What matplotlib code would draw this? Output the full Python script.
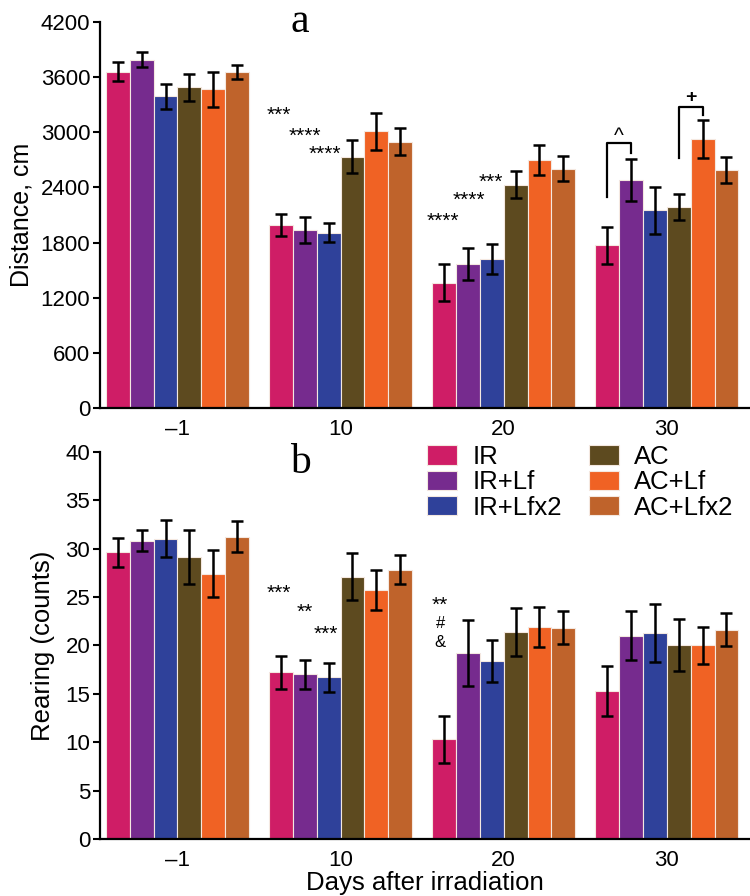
import numpy as np
import matplotlib
matplotlib.use("Agg")
import matplotlib.pyplot as plt
from matplotlib.patches import Patch

plt.rcParams["font.family"] = ["Liberation Sans", "DejaVu Sans"]

# data
days = ["\u20131", "10", "20", "30"]
groups = ["IR", "IR+Lf", "IR+Lfx2", "AC", "AC+Lf", "AC+Lfx2"]
colors = ["#CF1D66", "#762B8E", "#2F419A", "#5D4A1F", "#F06224", "#BF632B"]

# (a) distance, cm
dist_ir = [3660, 1990, 1365, 1770]
dist_ir_lf = [3790, 1940, 1565, 2480]
dist_ir_lf2 = [3390, 1910, 1620, 2150]
dist_ac = [3490, 2735, 2430, 2190]
dist_ac_lf = [3470, 3010, 2700, 2930]
dist_ac_lf2 = [3655, 2900, 2605, 2590]

dist_ir_se = [100, 120, 200, 205]
dist_ir_lf_se = [80, 140, 175, 230]
dist_ir_lf2_se = [140, 100, 165, 255]
dist_ac_se = [145, 180, 150, 140]
dist_ac_lf_se = [190, 200, 160, 205]
dist_ac_lf2_se = [80, 145, 135, 140]

# (b) rearing, counts
rear_ir = [29.6, 17.2, 10.3, 15.3]
rear_ir_lf = [30.8, 17.0, 19.2, 21.0]
rear_ir_lf2 = [31.0, 16.7, 18.4, 21.3]
rear_ac = [29.1, 27.1, 21.4, 20.0]
rear_ac_lf = [27.4, 25.7, 21.9, 20.0]
rear_ac_lf2 = [31.2, 27.8, 21.8, 21.6]

rear_ir_se = [1.5, 1.7, 2.4, 2.6]
rear_ir_lf_se = [1.1, 1.5, 3.4, 2.5]
rear_ir_lf2_se = [1.9, 1.5, 2.2, 3.0]
rear_ac_se = [2.8, 2.4, 2.5, 2.7]
rear_ac_lf_se = [2.4, 2.1, 2.1, 1.9]
rear_ac_lf2_se = [1.6, 1.5, 1.7, 1.7]

dist_means = [dist_ir, dist_ir_lf, dist_ir_lf2, dist_ac, dist_ac_lf, dist_ac_lf2]
dist_errs = [dist_ir_se, dist_ir_lf_se, dist_ir_lf2_se, dist_ac_se, dist_ac_lf_se, dist_ac_lf2_se]
rear_means = [rear_ir, rear_ir_lf, rear_ir_lf2, rear_ac, rear_ac_lf, rear_ac_lf2]
rear_errs = [rear_ir_se, rear_ir_lf_se, rear_ir_lf2_se, rear_ac_se, rear_ac_lf_se, rear_ac_lf2_se]

x = np.arange(len(days))
width = 0.1462


def bar_x(i):
    return x + (i - 2.5) * width


def draw_panel(ax, means, errs):
    for i, (m, e) in enumerate(zip(means, errs)):
        ax.bar(bar_x(i), m, width, color=colors[i], edgecolor="#f4e8e0",
               linewidth=0.8, zorder=2)
        ax.errorbar(bar_x(i), m, yerr=e, fmt="none", ecolor="black",
                    elinewidth=1.8, capsize=4, capthick=1.8, zorder=3)
    ax.set_xlim(-0.475, 3.51)
    ax.set_xticks(x)
    ax.set_xticklabels(days)
    for s in ["top", "right"]:
        ax.spines[s].set_visible(False)
    for s in ["left", "bottom"]:
        ax.spines[s].set_linewidth(1.6)
    ax.tick_params(axis="y", labelsize=16, width=1.5, length=5, pad=2)
    ax.tick_params(axis="x", labelsize=16, length=0, pad=8)


fig = plt.figure(figsize=(7.5, 8.96), dpi=100)
ax1 = fig.add_axes([0.1333, 0.5446, 0.8667, 0.4308])
ax2 = fig.add_axes([0.1333, 0.0636, 0.8667, 0.4323])

# panel a
draw_panel(ax1, dist_means, dist_errs)
ax1.set_ylim(0, 4200)
ax1.set_yticks(np.arange(0, 4201, 600))
ax1.set_ylabel("Distance, cm", fontsize=18)
ax1.yaxis.set_label_coords(-0.103, 0.5)
fig.text(0.4, 0.9646, "a", family="Liberation Serif", fontsize=30,
         ha="center", va="baseline")

star = dict(fontsize=15, ha="center", va="center")
ax1.text(0.62, 3180, "***", **star)
ax1.text(0.782, 2960, "****", **star)
ax1.text(0.902, 2765, "****", **star)
ax1.text(1.923, 2460, "***", **star)
ax1.text(1.785, 2255, "****", **star)
ax1.text(1.626, 2035, "****", **star)

# brackets at day 30
lx, rx = bar_x(0)[3], bar_x(1)[3]
ax1.plot([lx, lx, rx, rx], [2300, 2888, 2888, 2772], color="black", lw=1.6)
ax1.text((lx + rx) / 2, 2950, "^", fontsize=15, ha="center", va="center")
lx, rx = bar_x(3)[3], bar_x(4)[3]
ax1.plot([lx, lx, rx, rx], [2724, 3272, 3272, 3188], color="black", lw=1.6)
ax1.text((lx + rx) / 2, 3380, "+", fontsize=14, ha="center", va="center",
         fontweight="bold")

# panel b
draw_panel(ax2, rear_means, rear_errs)
ax2.set_ylim(0, 40)
ax2.set_yticks(np.arange(0, 41, 5))
ax2.set_ylabel("Rearing (counts)", fontsize=18.5)
ax2.yaxis.set_label_coords(-0.069, 0.5)
ax2.set_xlabel("Days after irradiation", fontsize=18.5, labelpad=0)
fig.text(0.4, 0.4721, "b", family="Liberation Serif", fontsize=30,
         ha="center", va="baseline")

ax2.text(0.623, 25.4, "***", **star)
ax2.text(0.779, 23.4, "**", **star)
ax2.text(0.908, 21.1, "***", **star)
ax2.text(1.61, 24.1, "**", **star)
ax2.text(1.61, 22.3, "#", fontsize=12, ha="center", va="center")
ax2.text(1.61, 20.3, "&", fontsize=12, ha="center", va="center")

handles = [Patch(facecolor=c, edgecolor="#f4e8e0", linewidth=0.8) for c in colors]
fig.legend(handles, groups, ncol=2, loc="upper left",
           bbox_to_anchor=(427 / 750, 1 - 445 / 896), frameon=False,
           fontsize=18.5, handlelength=1.17, handleheight=0.78,
           handletextpad=0.6, columnspacing=1.05, labelspacing=0.05,
           borderpad=0, borderaxespad=0)

fig.savefig("out.png", dpi=100)
